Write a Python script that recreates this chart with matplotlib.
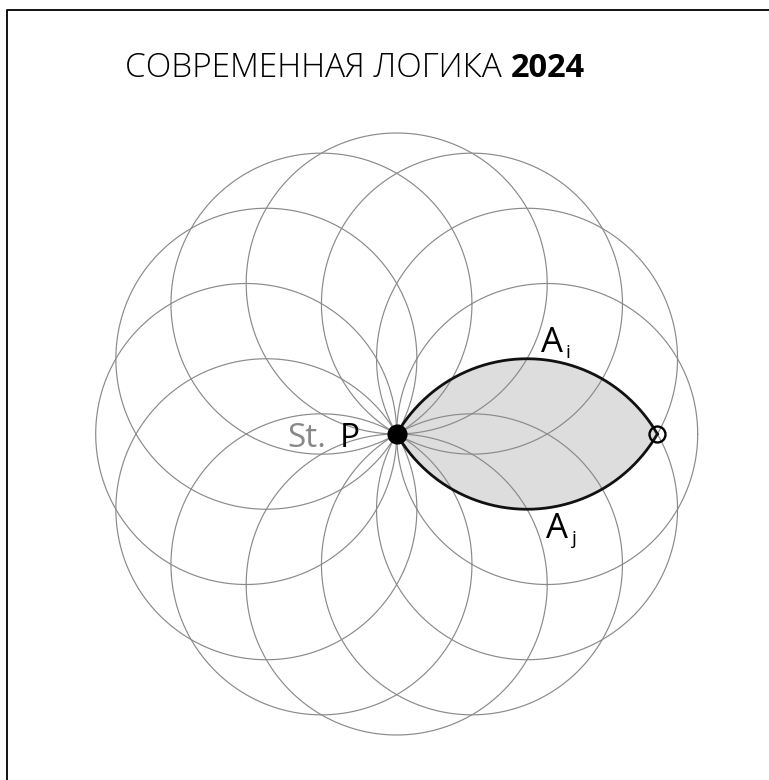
import numpy as np
import matplotlib.pyplot as plt

# geometry of the figure (pixel units, y pointing down)
center_p = (396.7, 434.0)
radius = 150.5
circle_angles = [0, 30, 60, 90, 120, 150, 180, 210, 240, 270, 300, 330]
lens_angles = [-30, 30]   # circles whose intersection forms the shaded lens

title_light = 'СОВРЕМЕННАЯ ЛОГИКА'
title_bold = '2024'

plt.rcParams['font.family'] = ['Open Sans', 'DejaVu Sans']

fig = plt.figure(figsize=(7.69, 7.80), dpi=100)
ax = fig.add_axes([0, 0, 1, 1])
ax.set_xlim(0, 769)
ax.set_ylim(780, 0)
ax.set_aspect('equal')
ax.axis('off')

px, py = center_p
t = np.linspace(0, 2 * np.pi, 721)

# twelve circles through P
for a in circle_angles:
    cx = px + radius * np.cos(np.radians(a))
    cy = py - radius * np.sin(np.radians(a))
    ax.plot(cx + radius * np.cos(t), cy + radius * np.sin(t),
            color='#8a8a8a', lw=0.85, zorder=2)

# lens between the two circles at -30 and +30 degrees
h = radius * np.cos(np.radians(lens_angles[1]))
c_low = (px + h, py + radius / 2)   # circle below -> upper arc
c_high = (px + h, py - radius / 2)  # circle above -> lower arc
s1 = np.radians(np.linspace(-150, -30, 200))
s2 = np.radians(np.linspace(30, 150, 200))
upper_x = c_low[0] + radius * np.cos(s1)
upper_y = c_low[1] + radius * np.sin(s1)
lower_x = c_high[0] + radius * np.cos(s2)
lower_y = c_high[1] + radius * np.sin(s2)
lens_x = np.concatenate([upper_x, lower_x])
lens_y = np.concatenate([upper_y, lower_y])
ax.fill(lens_x, lens_y, color='#dddddd', zorder=1)
ax.plot(upper_x, upper_y, color='#111111', lw=2.0, zorder=3)
ax.plot(lower_x, lower_y, color='#111111', lw=2.0, zorder=3)

# points
ax.plot(px, py, 'o', color='black', markersize=13.5, zorder=5)
ax.plot(px + 2 * h, py, 'o', markerfacecolor='none', markeredgecolor='black',
        markeredgewidth=1.7, markersize=11.5, zorder=5)

# labels
ax.text(px - 70, py + 13, 'St.', color='#888888', fontsize=24,
        ha='right', va='baseline', zorder=6)
ax.text(px - 57, py + 13, 'P', color='black', fontsize=24,
        ha='left', va='baseline', zorder=6)
ax.text(px + 144, py - 82, 'A', color='black', fontsize=25,
        ha='left', va='baseline', zorder=6)
ax.text(px + 169, py - 76, 'i', color='black', fontsize=14,
        ha='left', va='baseline', zorder=6)
ax.text(px + 149, py + 104, 'A', color='black', fontsize=25,
        ha='left', va='baseline', zorder=6)
ax.text(px + 174, py + 110, 'j', color='black', fontsize=14,
        ha='left', va='baseline', zorder=6)

# title
ax.text(502, 77, title_light, fontsize=24, fontweight='light',
        ha='right', va='baseline')
ax.text(511, 77, title_bold, fontsize=23.5, fontweight='bold',
        ha='left', va='baseline')

# frame (left and top edges)
ax.plot([7, 7, 780], [790, 10, 10], color='black', lw=1.3, clip_on=False)

plt.savefig('out.png', dpi=100)
